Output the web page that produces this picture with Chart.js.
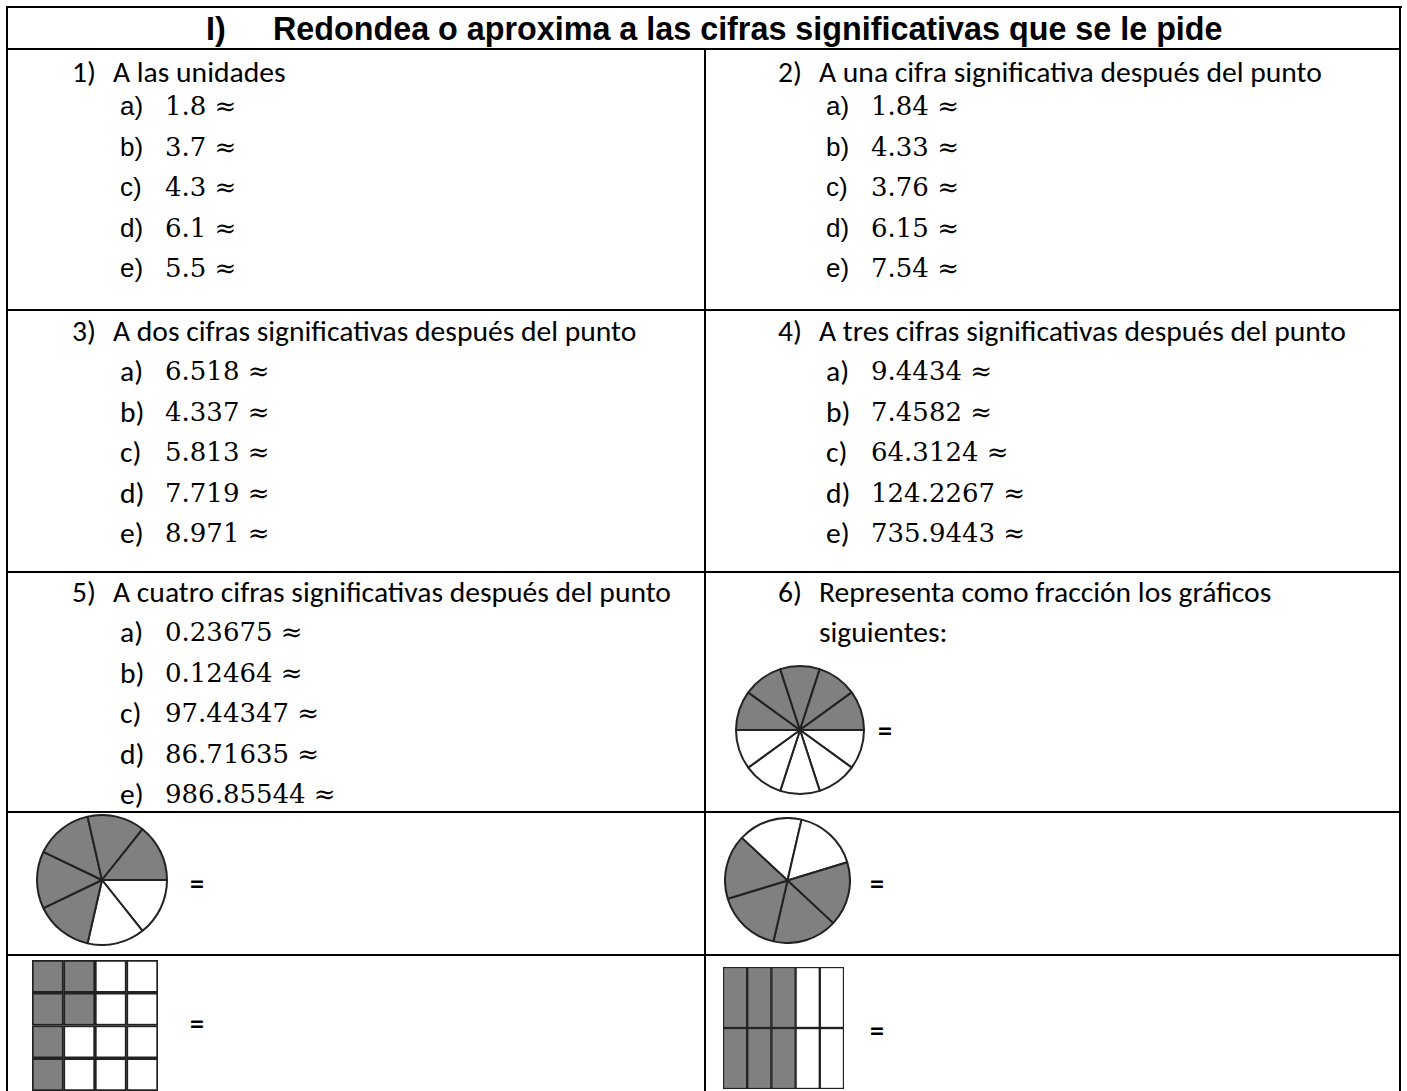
<!DOCTYPE html>
<html>
<head>
<meta charset="utf-8">
<script src="https://cdn.jsdelivr.net/npm/chart.js@4.4.1/dist/chart.umd.min.js"></script>
<style>
  html, body { margin: 0; padding: 0; background: #fff; }
  #sheet { position: relative; width: 1407px; height: 1091px; overflow: hidden; }
  .ln { position: absolute; background: #000; }
  .t { position: absolute; white-space: nowrap; height: 40px; line-height: 40px; color: #000; }
  .sans { font-family: Carlito, Calibri, Lato, sans-serif; font-size: 29.6px; }
  .arial { font-family: "Liberation Sans", Arial, sans-serif; font-size: 26px; }
  .num { font-family: "DejaVu Serif", serif; font-size: 26px; }
  .head { font-family: "Liberation Sans", Arial, sans-serif; font-weight: bold; font-size: 32.3px; }
  .eq { font-family: Carlito, Calibri, Lato, sans-serif; font-weight: bold; font-size: 28px; }
  .fig { position: absolute; }
</style>
</head>
<body>
<div id="sheet"></div>
<script>
// ---- worksheet text ----
const headNum = 'I)';
const headTitle = 'Redondea o aproxima a las cifras significativas que se le pide';
const itemLetters = ['a)', 'b)', 'c)', 'd)', 'e)'];

const titles = [
  'A las unidades',
  'A una cifra significativa después del punto',
  'A dos cifras significativas después del punto',
  'A tres cifras significativas después del punto',
  'A cuatro cifras significativas después del punto',
];
const items1 = ['1.8', '3.7', '4.3', '6.1', '5.5'];
const items2 = ['1.84', '4.33', '3.76', '6.15', '7.54'];
const items3 = ['6.518', '4.337', '5.813', '7.719', '8.971'];
const items4 = ['9.4434', '7.4582', '64.3124', '124.2267', '735.9443'];
const items5 = ['0.23675', '0.12464', '97.44347', '86.71635', '986.85544'];
const title6 = ['Representa como fracción los gráficos', 'siguientes:'];

// ---- figures: equal parts and how many are shaded ----
const pieParts  = [10, 7, 6];
const pieShaded = [5, 5, 4];
const pieStart  = [90, 90, -47];   // degrees, clockwise from top, where the white parts start

// grids, top row first, 1 = shaded
const grid1 = [
  [1, 1, 0, 0],
  [1, 1, 0, 0],
  [1, 0, 0, 0],
  [1, 0, 0, 0],
];
const grid2 = [
  [1, 1, 1, 0, 0],
  [1, 1, 1, 0, 0],
];

const GRAY = '#808080';
const INK = '#222';
const sheet = document.getElementById('sheet');

function line(x, y, w, h) {
  const d = document.createElement('div');
  d.className = 'ln';
  Object.assign(d.style, { left: x + 'px', top: y + 'px', width: w + 'px', height: h + 'px' });
  sheet.appendChild(d);
}

function text(str, x, cy, cls) {
  const d = document.createElement('div');
  d.className = 't ' + cls;
  d.textContent = str;
  d.style.left = x + 'px';
  d.style.top = (cy - 20) + 'px';
  sheet.appendChild(d);
}

// table rules
line(6, 6, 1396, 2);
line(6, 6, 2, 1085);
line(1399, 6, 2, 1085);
[48, 309, 571, 811, 954].forEach(y => line(6, y, 1395, 2));
line(704, 48, 2, 1043);

// header
text(headNum, 206, 29, 'head');
text(headTitle, 273, 29, 'head');

// numbered sections
function section(n, title, items, col, ty, iy, labelCls) {
  const x0 = col === 0 ? 72 : 778;
  text(n + ')', x0, ty, 'sans');
  text(title, x0 + 41, ty, 'sans');
  items.forEach((v, i) => {
    const y = iy + i * 40.5;
    text(itemLetters[i], x0 + 48, y, labelCls);
    text(v + ' \u2248', x0 + 93, y, 'num');
  });
}
section(1, titles[0], items1, 0, 72, 106, 'arial');
section(2, titles[1], items2, 1, 72, 106, 'arial');
section(3, titles[2], items3, 0, 331, 371, 'sans');
section(4, titles[3], items4, 1, 331, 371, 'sans');
section(5, titles[4], items5, 0, 592, 632, 'sans');
text('6)', 778, 592, 'sans');
text(title6[0], 819, 592, 'sans');
text(title6[1], 819, 632, 'sans');

// equals signs
text('=', 878, 731, 'eq');
text('=', 190, 884, 'eq');
text('=', 870, 884, 'eq');
text('=', 190, 1024, 'eq');
text('=', 870, 1031, 'eq');

function canvasAt(x, y, w, h) {
  const c = document.createElement('canvas');
  c.className = 'fig';
  c.width = w; c.height = h;
  c.style.left = x + 'px'; c.style.top = y + 'px';
  c.style.width = w + 'px'; c.style.height = h + 'px';
  sheet.appendChild(c);
  return c;
}

const baseOpts = {
  responsive: false,
  animation: false,
  events: [],
  layout: { padding: 0 },
  plugins: { legend: { display: false }, tooltip: { enabled: false } },
};

function pie(i, x, y, size) {
  const parts = pieParts[i], shaded = pieShaded[i];
  const vals = new Array(parts).fill(1);
  const colors = vals.map((_, k) => k < parts - shaded ? '#fff' : GRAY);
  new Chart(canvasAt(x, y, size, size), {
    type: 'pie',
    data: {
      labels: vals.map((_, k) => String(k + 1)),
      datasets: [{ data: vals, backgroundColor: colors, borderColor: INK, borderWidth: 2 }],
    },
    options: Object.assign({ rotation: pieStart[i] }, baseOpts),
  });
}
pie(0, 735, 665, 130);
pie(1, 36, 814, 132);
pie(2, 724, 817, 127);

function grid(rows, x, y, w, h, bw) {
  const cols = rows[0].map((_, k) => String(k + 1));
  const datasets = rows.slice().reverse().map((row, r) => ({
    label: 'r' + r,
    data: row.map(() => 1),
    backgroundColor: row.map(s => s ? GRAY : '#fff'),
    borderColor: INK,
    borderWidth: bw,
    borderSkipped: false,
    barPercentage: 1,
    categoryPercentage: 1,
  }));
  new Chart(canvasAt(x, y, w, h), {
    type: 'bar',
    data: { labels: cols, datasets },
    options: Object.assign({
      scales: {
        x: { display: false, stacked: true },
        y: { display: false, stacked: true, min: 0, max: rows.length },
      },
    }, baseOpts),
  });
}
grid(grid1, 32, 960, 126, 131, 2);
grid(grid2, 723, 967, 121, 122, 1.5);
</script>
</body>
</html>
